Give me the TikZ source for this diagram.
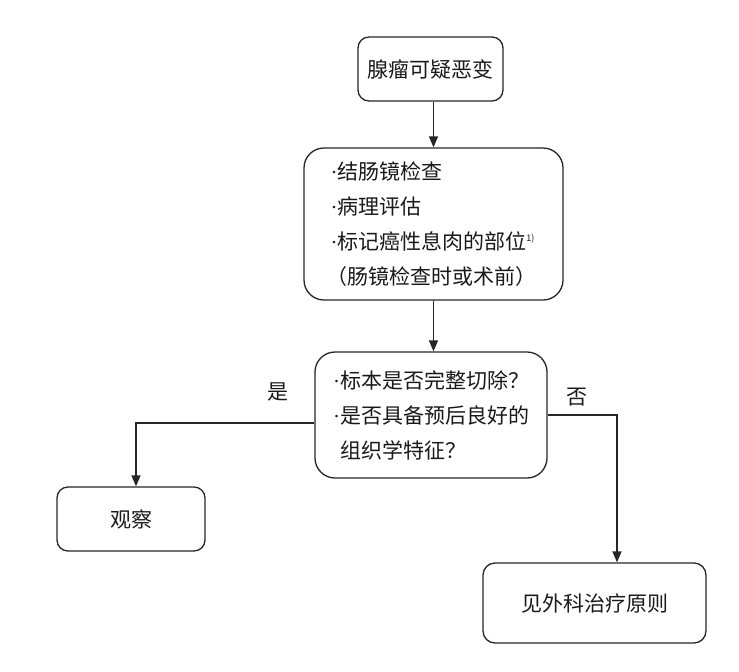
\documentclass[tikz,border=0pt]{standalone}
\usepackage{fontspec}
\setmainfont{Noto Sans CJK SC}
\newfontfamily\dotfont{Liberation Serif}
\usetikzlibrary{arrows.meta}
\newcommand{\fnmark}{{\fontsize{9pt}{9pt}\selectfont\raisebox{8pt}{1)}}}
\newcommand{\pt}{{\dotfont ·}}

\begin{document}
\begin{tikzpicture}[x=1pt, y=-1pt,
    box/.style={rectangle, draw=black!85, line width=1.3pt, rounded corners=#1,
        align=left, inner sep=0pt, text=black!90, font=\fontsize{21pt}{35pt}\selectfont},
    box/.default=11pt,
    arr/.style={-{Triangle[length=11pt,width=9pt]}, line width=1.3pt, draw=black!85},
    lbl/.style={text=black!90, font=\fontsize{21pt}{21pt}\selectfont}]
    \useasboundingbox (0,0) rectangle (739,672);

    % Start and work-up
    \node[box, minimum width=145pt, minimum height=64pt] (suspect) at (430.5,69) {腺瘤可疑恶变};
    \node[box=20pt, minimum width=259pt, minimum height=152pt] (workup) at (433.5,224)
        {\pt 结肠镜检查\\\pt 病理评估\\\pt 标记癌性息肉的部位\fnmark\\\hspace*{-4pt}（肠镜检查时或术前）};
    \draw[arr] (workup.north |- suspect.south) -- (workup.north);

    % Decision
    \node[box=20pt, minimum width=232pt, minimum height=126pt] (decide) at (431,415)
        {\pt 标本是否完整切除？\\\pt 是否具备预后良好的\\\phantom{\pt}组织学特征？};
    \draw[arr] (workup.south) -- (workup.south |- decide.north);

    % Outcomes
    \node[box, minimum width=148pt, minimum height=64pt] (observe) at (131,519) {观察};
    \node[box=12pt, minimum width=223pt, minimum height=80pt] (surgery) at (594.5,603) {见外科治疗原则};
    \draw[arr] ([yshift=-8pt]decide.west) -| ([xshift=5pt]observe.north);
    \draw[arr] (decide.east) -| ([xshift=22.5pt]surgery.north);
    \node[lbl] (yes) at (278,392) {是};
    \node[lbl] (no) at (577,397) {否};
\end{tikzpicture}
\end{document}
